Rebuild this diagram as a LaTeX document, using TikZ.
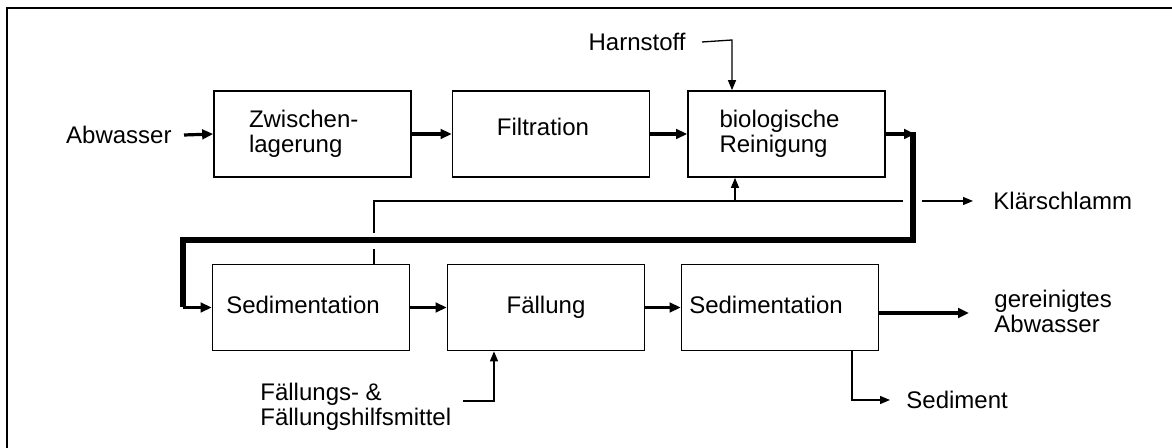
\documentclass[tikz,border=0pt]{standalone}
\usepackage{fontspec}
\setmainfont{Liberation Sans}
\usetikzlibrary{arrows.meta}
\begin{document}
\begin{tikzpicture}[x=0.5pt,y=-0.5pt,
  font=\fontsize{12}{12.5}\selectfont,
  box/.style={draw, line width=0.85pt, minimum width=98.5pt, minimum height=43pt, inner sep=0pt},
  one/.style={text height=8.6pt, text depth=2.6pt},
  lbl/.style={inner sep=0pt, align=left},
  medarrow/.style={line width=1.6pt, -{Triangle[length=5.5pt,width=4.8pt]}},
  thinarrow/.style={line width=0.65pt, -{Triangle[length=5pt,width=4pt]}},
  thinline/.style={line width=0.65pt},
  thickline/.style={line width=2.8pt, line join=miter},
  frame/.style={line width=1.3pt}]
\useasboundingbox (0,0) rectangle (1172,448);
\draw[frame] (7,460) -- (7,8) -- (1180,8);

% boxes
\node[box, align=left, text width=63.5pt] (zw) at (312.5,134) {Zwischen-\\lagerung};
\node[box, one] (filt) at (551,134) {\raisebox{2pt}{Filtration}\hspace*{8pt}};
\node[box, align=left, text width=71pt] (bio) at (786.5,134) {\hspace*{2pt}biologische\\\hspace*{2pt}Reinigung};
\node[box, one] (sed1) at (311,307.5) {Sedimentation\hspace*{8pt}};
\node[box, one] (fal) at (546,307.5) {Fällung};
\node[box, one] (sed2) at (780,307.5) {Sedimentation\hspace*{14pt}};

% labels
\node[lbl, anchor=east] (abw) at (172,135) {Abwasser};
\node[lbl, anchor=east] (harn) at (686,42) {Harnstoff};
\node[lbl, anchor=west] (klaer) at (993,201) {Klärschlamm};
\node[lbl, anchor=west] (rein) at (994,311) {gereinigtes\\Abwasser};
\node[lbl, anchor=west] (sedi) at (906,400) {Sediment};
\node[lbl, anchor=west] (fhm) at (260,407) {Fällungs- \&\\Fällungshilfsmittel};

% coordinates
\coordinate (c1) at (913,134);
\coordinate (c2) at (913,240);
\coordinate (c3) at (183,240);
\coordinate (c4) at (183,307.5);

% main flow
\draw[medarrow] ([xshift=6pt]abw.east) -- (zw.west);
\draw[medarrow] (zw.east) -- (filt.west);
\draw[medarrow] (filt.east) -- (bio.west);
\draw[medarrow, shorten >=-1pt] (bio.east) -- (c1);
\draw[thickline] ([yshift=0.8pt]c1) -- (c2) -- (c3) -- (c4);
\draw[medarrow] (c4) -- (sed1.west);
\draw[medarrow] (sed1.east) -- (fal.west);
\draw[medarrow] (fal.east) -- (sed2.west);
\draw[medarrow] ([yshift=-2.75pt]sed2.east) -- (969,313);

% recycle / sludge
\coordinate (r1) at (374,201);
\coordinate (r2) at (903,201);
\draw[thinline] (sed1.north -| r1) -- (374,249);
\draw[thinline] (374,233) -- (r1) -- (r2);
\draw[thinarrow] (735,201) -- (bio.south -| 735,0);
\draw[thinarrow] (922,201) -- ([xshift=-10pt]klaer.west);

% Harnstoff
\draw[thinarrow] ([xshift=8pt]harn.east) -- (732,40) -- (bio.north -| 732,0);

% Fällungsmittel
\draw[thinarrow] (463,401) -- (494,401) -- (fal.south -| 494,0);

% Sediment
\draw[thinarrow] (sed2.south -| 852,0) -- (852,400) -- ([xshift=-8pt]sedi.west);
\end{tikzpicture}
\end{document}
